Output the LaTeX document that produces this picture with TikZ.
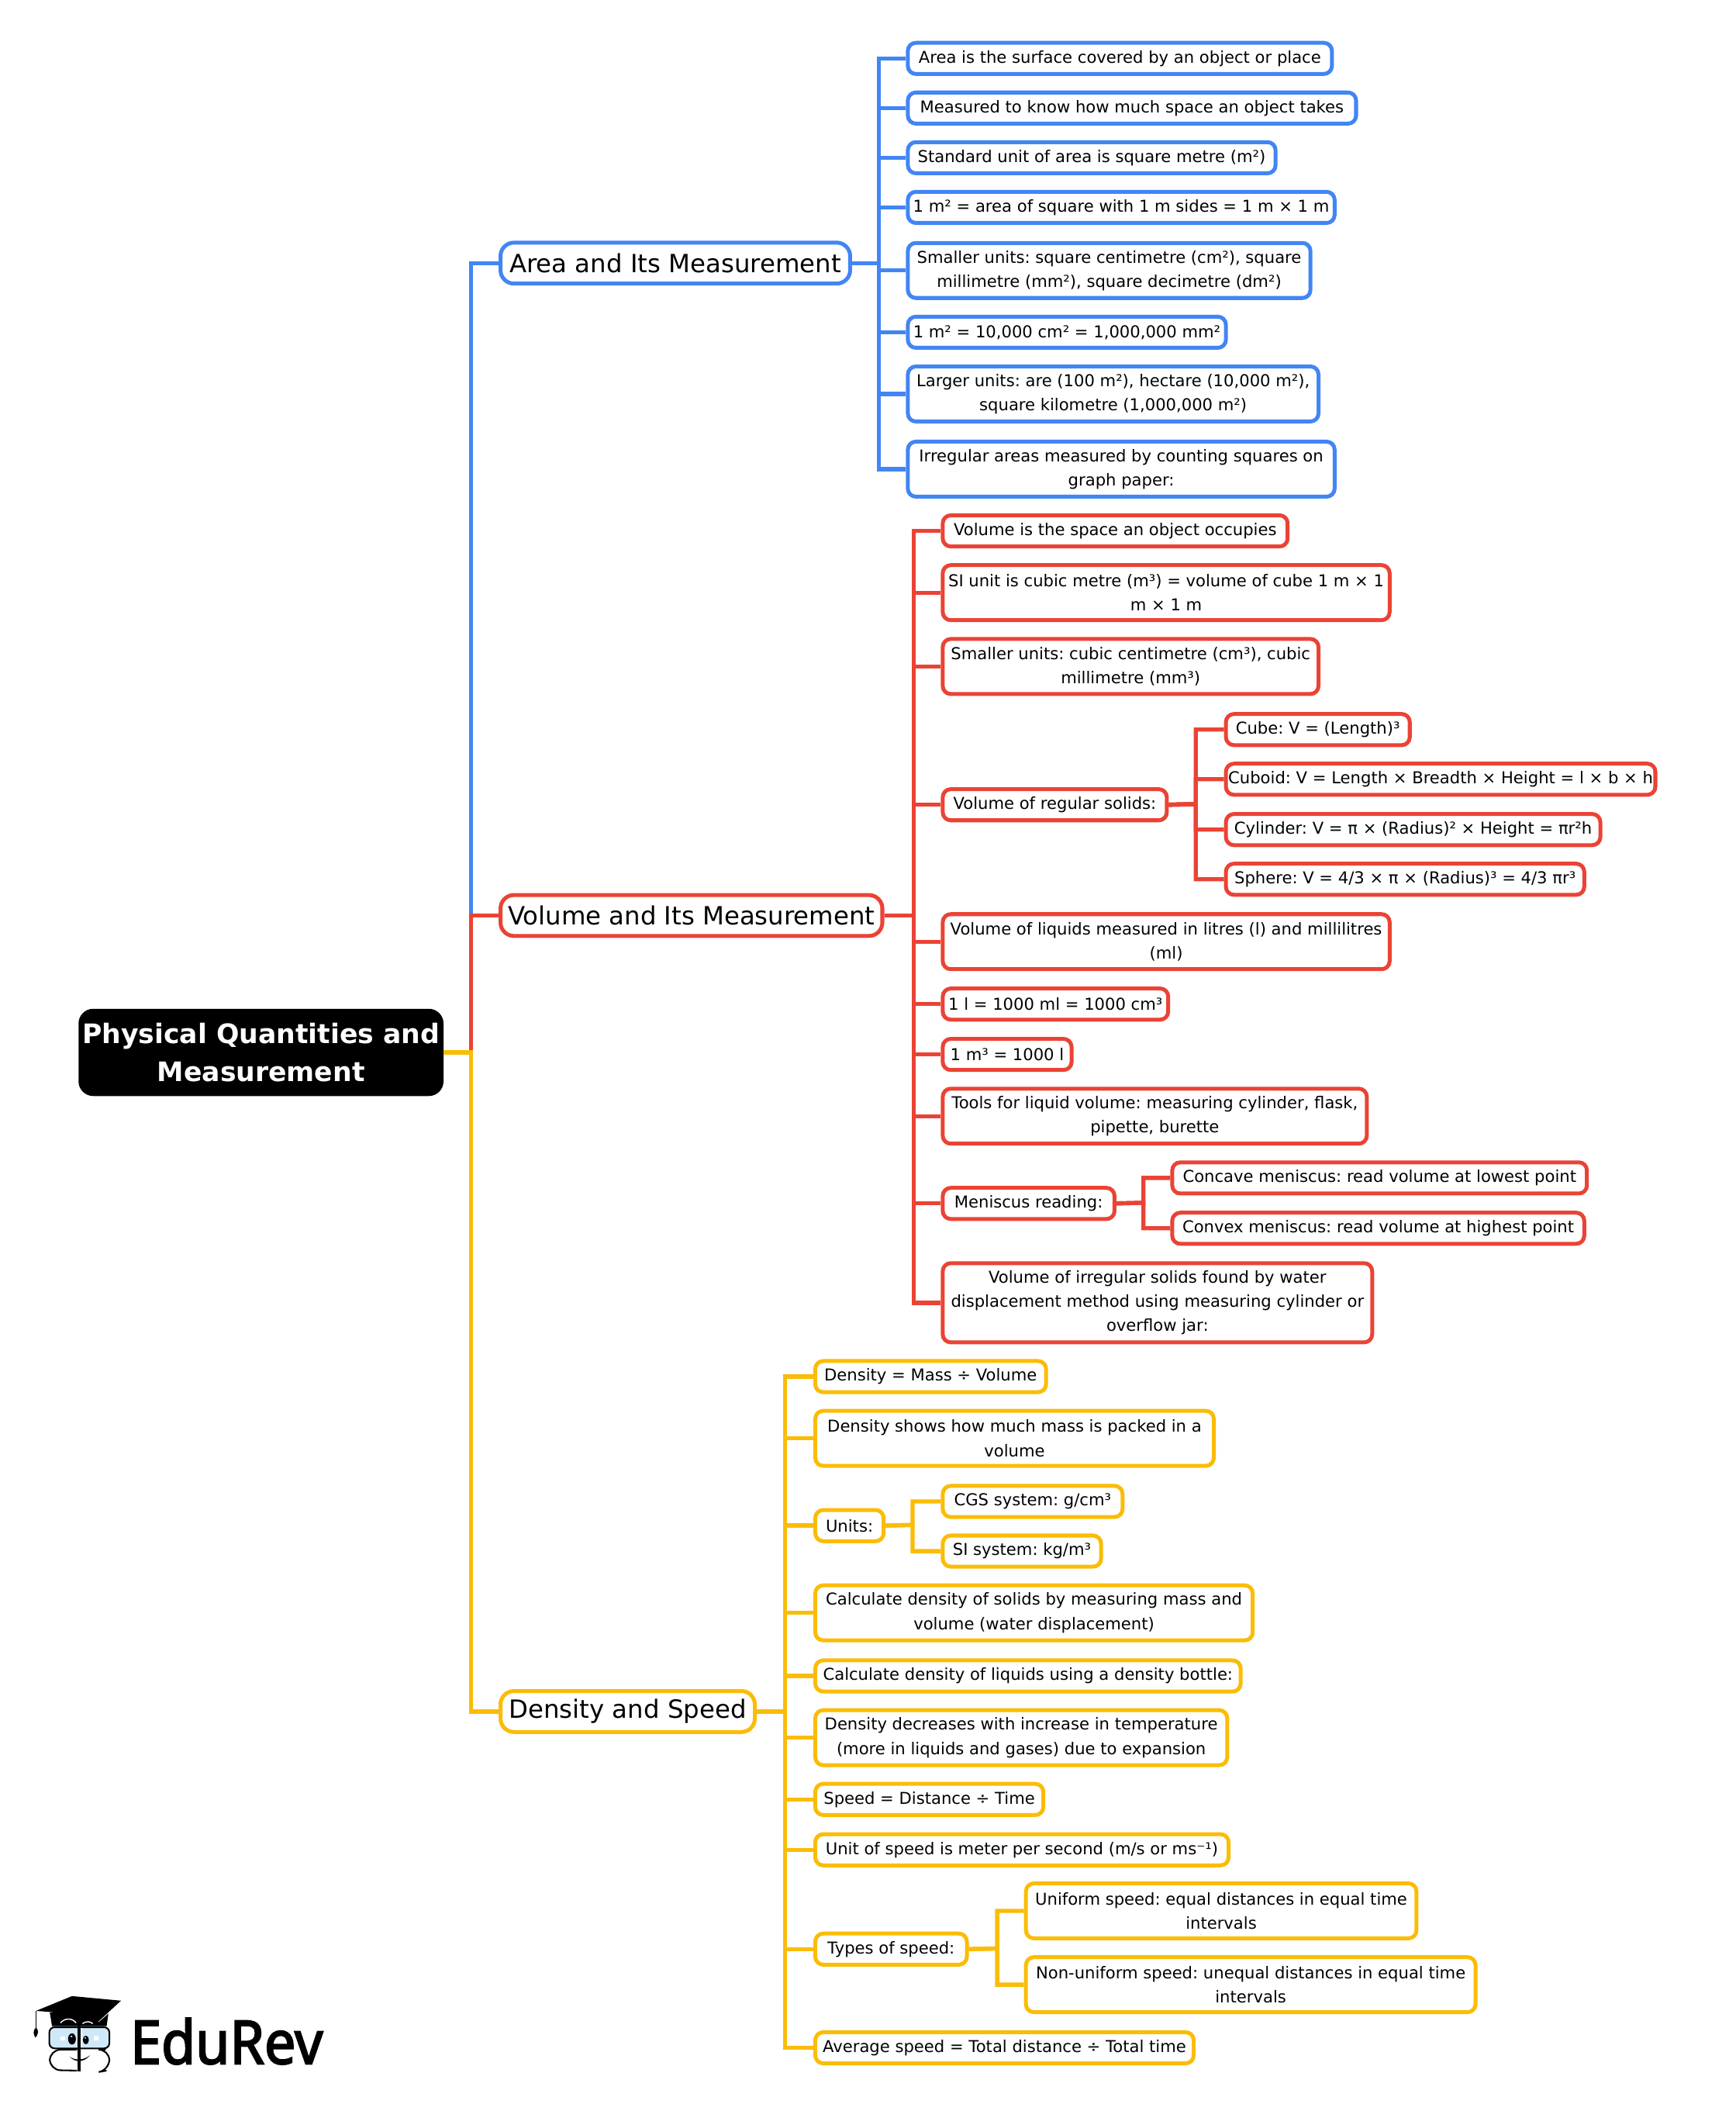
\documentclass[tikz,border=0pt]{standalone}
\usepackage{fontspec}
\setmainfont{DejaVu Sans}
\newfontfamily\brandfont[FakeBold=2.6,FakeStretch=0.92]{Noto Sans}
\usepackage{tikz}
\usetikzlibrary{positioning}
\definecolor{areablue}{HTML}{4285F4}
\definecolor{volred}{HTML}{EA4335}
\definecolor{denorange}{HTML}{FBBC05}
\definecolor{lensblue}{HTML}{CFE8F8}
\frenchspacing

\begin{document}
\begin{tikzpicture}[x=1pt,y=-1pt,
    leaf/.style={draw,fill=white,anchor=west,xshift=-1pt,yshift=-.5pt,rounded corners=6pt,line width=2.9pt,inner sep=0pt,align=center,minimum height=23.2pt,font=\fontsize{12.2}{18}\selectfont},
    two/.style={minimum height=41pt},
    three/.style={minimum height=59pt},
    branch/.style={draw,fill=white,anchor=west,xshift=-1.5pt,rounded corners=10pt,line width=2.9pt,inner sep=0pt,minimum height=30.5pt,font=\fontsize{18.7}{24}\selectfont},
    link/.style={line width=3.1pt,line join=miter}]
  \useasboundingbox (0,0) rectangle (1293,1567.4);

  \node[fill=black,text=white,rounded corners=11pt,inner sep=0pt,minimum width=272pt,minimum height=65pt,align=center,font=\fontsize{20}{28}\selectfont\bfseries] (root) at (194.5,784) {Physical Quantities and\\Measurement};
  \coordinate (rootTrunk) at (351,784);

  % area
  \node[branch,draw=areablue,minimum width=260.5pt] (area) at (373,196) {Area and Its Measurement};
  \coordinate (areaTrunk) at (655,196);
  \begin{scope}[every node/.style={leaf,draw=areablue}]
    \node[minimum width=316pt] (a1) at (676,43) {Area is the surface covered by an object or place};
    \node[minimum width=334pt] (a2) at (676,80) {Measured to know how much space an object takes};
    \node[minimum width=274pt] (a3) at (676,117) {Standard unit of area is square metre (m²)};
    \node[minimum width=318pt] (a4) at (676,154) {1 m² = area of square with 1 m sides = 1 m × 1 m};
    \node[two,minimum width=300pt] (a5) at (676,201) {Smaller units: square centimetre (cm²), square\\millimetre (mm²), square decimetre (dm²)};
    \node[minimum width=237pt] (a6) at (676,247) {1 m² = 10,000 cm² = 1,000,000 mm²};
    \node[two,minimum width=306pt] (a7) at (676,293) {Larger units: are (100 m²), hectare (10,000 m²),\\square kilometre (1,000,000 m²)};
    \node[two,minimum width=318pt] (a8) at (676,349) {Irregular areas measured by counting squares on\\graph paper:};
  \end{scope}

  % volume
  \node[branch,draw=volred,minimum width=284.5pt] (vol) at (373,682) {Volume and Its Measurement};
  \coordinate (volTrunk) at (681,682);
  \coordinate (solidTrunk) at (891,599);
  \coordinate (menTrunk) at (852,896);
  \begin{scope}[every node/.style={leaf,draw=volred}]
    \node[minimum width=257pt] (v1) at (702,395) {Volume is the space an object occupies};
    \node[two,minimum width=333pt] (v2) at (702,441) {SI unit is cubic metre (m³) = volume of cube 1 m × 1\\m × 1 m};
    \node[two,minimum width=280pt] (v3) at (702,496) {Smaller units: cubic centimetre (cm³), cubic\\millimetre (mm³)};
    \node[minimum width=167pt] (v4) at (702,599) {Volume of regular solids:};
    \node[minimum width=137pt] (s1) at (913,543) {Cube: V = (Length)³};
    \node[minimum width=320pt] (s2) at (913,580) {Cuboid: V = Length × Breadth × Height = l × b × h};
    \node[minimum width=279pt] (s3) at (913,617.5) {Cylinder: V = π × (Radius)² × Height = πr²h};
    \node[minimum width=267pt] (s4) at (913,654.5) {Sphere: V = 4/3 × π × (Radius)³ = 4/3 πr³};
    \node[two,minimum width=333pt] (v5) at (702,701) {Volume of liquids measured in litres (l) and millilitres\\(ml)};
    \node[minimum width=168pt] (v6) at (702,747.5) {1 l = 1000 ml = 1000 cm³};
    \node[minimum width=96pt] (v7) at (702,785) {1 m³ = 1000 l};
    \node[two,minimum width=316pt] (v8) at (702,831) {Tools for liquid volume: measuring cylinder, flask,\\pipette, burette};
    \node[minimum width=128pt] (v9) at (702,896) {Meniscus reading:};
    \node[minimum width=309pt] (m1) at (873,877) {Concave meniscus: read volume at lowest point};
    \node[minimum width=307pt] (m2) at (873,914.5) {Convex meniscus: read volume at highest point};
    \node[three,minimum width=320pt] (v10) at (702,970) {Volume of irregular solids found by water\\displacement method using measuring cylinder or\\overflow jar:};
  \end{scope}

  % density
  \node[branch,draw=denorange,minimum width=189.5pt] (den) at (373,1275) {Density and Speed};
  \coordinate (denTrunk) at (585,1275);
  \coordinate (unitTrunk) at (680,1136);
  \coordinate (speedTrunk) at (743,1451.5);
  \begin{scope}[every node/.style={leaf,draw=denorange}]
    \node[minimum width=172pt] (d1) at (607,1025) {Density = Mass ÷ Volume};
    \node[two,minimum width=297pt] (d2) at (607,1071) {Density shows how much mass is packed in a\\volume};
    \node[minimum width=51pt] (d3) at (607,1136) {Units:};
    \node[minimum width=134pt] (u1) at (702,1118) {CGS system: g/cm³};
    \node[minimum width=118pt] (u2) at (702,1155) {SI system: kg/m³};
    \node[two,minimum width=326pt] (d4) at (607,1201) {Calculate density of solids by measuring mass and\\volume (water displacement)};
    \node[minimum width=317pt] (d5) at (607,1248) {Calculate density of liquids using a density bottle:};
    \node[two,minimum width=307pt] (d6) at (607,1294) {Density decreases with increase in temperature\\(more in liquids and gases) due to expansion};
    \node[minimum width=170pt] (d7) at (607,1340) {Speed = Distance ÷ Time};
    \node[minimum width=308pt] (d8) at (607,1377.5) {Unit of speed is meter per second (m/s or ms⁻¹)};
    \node[minimum width=113pt] (d9) at (607,1451.5) {Types of speed:};
    \node[two,minimum width=291pt] (t1) at (764,1423) {Uniform speed: equal distances in equal time\\intervals};
    \node[two,minimum width=335pt] (t2) at (764,1478) {Non-uniform speed: unequal distances in equal time\\intervals};
    \node[minimum width=282pt] (d10) at (607,1525) {Average speed = Total distance ÷ Total time};
  \end{scope}

  \foreach \c in {a1,a2,a3,a4,a5,a6,a7,a8}
    \draw[link,areablue] (area.east) -- (areaTrunk) |- (\c.west);
  \foreach \c in {v1,v2,v3,v4,v5,v6,v7,v8,v9,v10}
    \draw[link,volred] (vol.east) -- (volTrunk) |- (\c.west);
  \foreach \c in {s1,s2,s3,s4}
    \draw[link,volred] (v4.east) -- (solidTrunk) |- (\c.west);
  \foreach \c in {m1,m2}
    \draw[link,volred] (v9.east) -- (menTrunk) |- (\c.west);
  \foreach \c in {d1,d2,d3,d4,d5,d6,d7,d8,d9,d10}
    \draw[link,denorange] (den.east) -- (denTrunk) |- (\c.west);
  \foreach \c in {u1,u2}
    \draw[link,denorange] (d3.east) -- (unitTrunk) |- (\c.west);
  \foreach \c in {t1,t2}
    \draw[link,denorange] (d9.east) -- (speedTrunk) |- (\c.west);

  \draw[link,areablue] (root.east) -- (rootTrunk) |- (area.west);
  \draw[link,volred] (root.east) -- (rootTrunk) |- (vol.west);
  \draw[link,denorange] (root.east) -- (rootTrunk) |- (den.west);

  % logo
  \node[anchor=base west,inner sep=0pt,font=\brandfont\fontsize{45}{45}\selectfont] (brand) at (97,1537.5) {EduRev};
  \begin{scope}[shift={(0pt,-1433.8pt)},x=.2063pt,y=-.19pt]
    \fill (180,345) -- (188,398) -- (385,398) -- (392,345) -- cycle;
    \draw[white,line width=.8pt] (355,380) -- (392,345);
    \fill (130,338) -- (260,280) -- (437,298) -- (355,380) .. controls (300,358) and (230,345) .. cycle;
    \draw[line width=.8pt] (130,338) -- (130,405);
    \fill (130,403) .. controls (118,415) and (120,430) .. (128,443) .. controls (138,430) and (142,415) .. cycle;
    \draw[white,line width=.8pt] (218,385) .. controls (235,365) and (260,365) .. (275,385);
    \draw[white,line width=.8pt] (298,388) .. controls (310,378) and (325,378) .. (335,388);
    \draw[fill=lensblue,line width=1.2pt,rounded corners=4pt] (178,402) rectangle (395,485);
    \draw[line width=1.2pt,rounded corners=8pt] (278,490) -- (180,490) -- (180,570) -- (278,572);
    \draw[line width=1.2pt,rounded corners=8pt] (382,490) -- (395,490) -- (395,570) -- (385,572);
    \fill (280,397) rectangle (292,574);
    \fill[white] (292,404) rectangle (296,480);
    \fill (260,448) ellipse [x radius=14,y radius=22];
    \fill (310,452) ellipse [x radius=11,y radius=17];
    \fill[white] (258,438) circle (3.5);
    \fill[white] (308,444) circle (3);
    \fill[white] (218,438) rectangle (234,454);
    \fill[white] (340,436) rectangle (356,454);
    \fill (252,518) .. controls (275,535) and (305,530) .. (325,512) .. controls (305,540) and (272,542) .. cycle;
  \end{scope}
\end{tikzpicture}
\end{document}
